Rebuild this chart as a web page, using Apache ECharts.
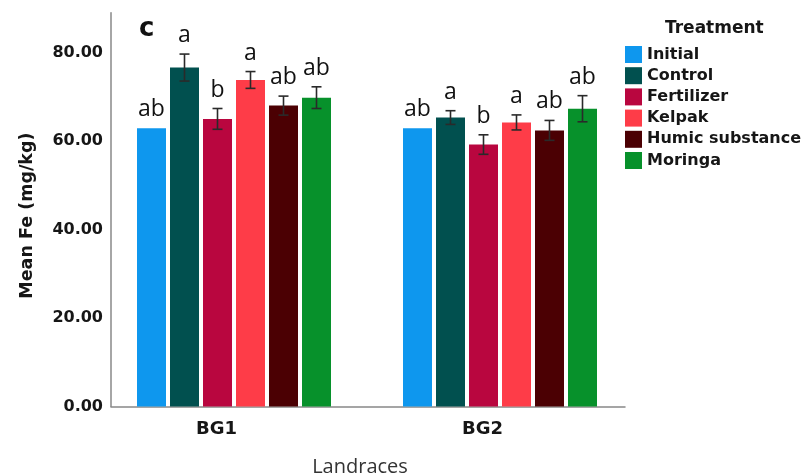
<!DOCTYPE html>
<html>
<head>
<meta charset="utf-8">
<script src="https://cdn.jsdelivr.net/npm/echarts@6/dist/echarts.min.js"></script>
<style>
html,body{margin:0;padding:0;background:#fff;}
#chart{width:807px;height:476px;}
</style>
</head>
<body>
<div id="chart"></div>
<script>
// ---- data ----
const categories = ['BG1', 'BG2'];
const treatments = ['Initial', 'Control', 'Fertilizer', 'Kelpak', 'Humic substance', 'Moringa'];
const meanBG1 = [62.9, 76.6, 65.0, 73.8, 68.0, 69.8];
const meanBG2 = [62.9, 65.3, 59.2, 64.2, 62.4, 67.3];
const errBG1 = [0, 3.05, 2.35, 1.9, 2.15, 2.45];
const errBG2 = [0, 1.55, 2.2, 1.7, 2.25, 2.95];
const lettersBG1 = ['ab', 'a', 'b', 'a', 'ab', 'ab'];
const lettersBG2 = ['ab', 'a', 'b', 'a', 'ab', 'ab'];
const yTicks = [0, 20, 40, 60, 80];

// ---- style ----
const colors = ['#0e97ee', '#01504f', '#b9063f', '#fe3c48', '#4b0003', '#07912b'];
const BAR_W = 29, BAR_GAP = 4, STEP = BAR_W + BAR_GAP;
const BOLD = 'DejaVu Sans';
const TXT = '#161616';

const means = [meanBG1, meanBG2];
const errs = [errBG1, errBG2];
const letters = [lettersBG1, lettersBG2];

const barSeries = treatments.map((t, i) => ({
  name: t,
  type: 'bar',
  xAxisIndex: 0,
  yAxisIndex: 0,
  barWidth: BAR_W,
  barGap: (BAR_GAP / BAR_W * 100) + '%',
  itemStyle: { color: colors[i] },
  data: categories.map((c, k) => means[k][i])
}));

const errData = [];
categories.forEach((c, k) => {
  treatments.forEach((t, i) => {
    errData.push([k, means[k][i], errs[k][i], i]);
  });
});

function renderItem(params, api) {
  const cat = api.value(0), mean = api.value(1), err = api.value(2), t = api.value(3);
  const base = api.coord([cat, mean]);
  const x = base[0] + (t - 2.5) * STEP;
  const top = api.coord([cat, mean + err])[1];
  const bot = api.coord([cat, mean - err])[1];
  const children = [];
  const ls = { stroke: '#2a2a2a', lineWidth: 1.6 };
  if (err > 0) {
    children.push({ type: 'line', shape: { x1: x, y1: top, x2: x, y2: bot }, style: ls });
    children.push({ type: 'line', shape: { x1: x - 5, y1: top, x2: x + 5, y2: top }, style: ls });
    children.push({ type: 'line', shape: { x1: x - 5, y1: bot, x2: x + 5, y2: bot }, style: ls });
  }
  children.push({
    type: 'text',
    style: {
      text: letters[cat][t], x: x, y: top - 7,
      align: 'center', verticalAlign: 'bottom',
      font: '23px "Open Sans"', fill: '#111'
    }
  });
  return { type: 'group', children: children };
}

const chart = echarts.init(document.getElementById('chart'), null, { renderer: 'canvas' });
chart.setOption({
  animation: false,
  backgroundColor: '#fff',
  title: [
    { text: 'c', left: 139, top: 16, padding: 0,
      textStyle: { fontFamily: BOLD, fontWeight: 'bold', fontSize: 26, color: '#111' } },
    { text: 'Treatment', left: 665, top: 20, padding: 0,
      textStyle: { fontFamily: BOLD, fontWeight: 'bold', fontSize: 17, color: TXT } }
  ],
  legend: {
    data: treatments,
    orient: 'vertical',
    left: 625, top: 46,
    padding: 0,
    itemWidth: 17, itemHeight: 17, itemGap: 4.2,
    icon: 'rect',
    textStyle: { fontFamily: BOLD, fontWeight: 'bold', fontSize: 16, color: TXT, lineHeight: 17 }
  },
  grid: [
    { left: 101, width: 532, top: 12.7, bottom: 69.5, containLabel: false, outerBoundsMode: 'none' },
    { left: 111, width: 514, top: 12.7, bottom: 69.5, containLabel: false, outerBoundsMode: 'none' }
  ],
  xAxis: [
    {
      type: 'category', gridIndex: 0, data: categories,
      axisLine: { show: false }, axisTick: { show: false },
      axisLabel: { margin: 14, padding: [0, 35, 0, 0], fontFamily: BOLD, fontWeight: 'bold', fontSize: 18, color: TXT },
      name: 'Landraces', nameLocation: 'middle', nameGap: 51,
      nameTextStyle: { fontFamily: 'Open Sans', fontSize: 20, color: '#333', padding: [0, 14, 0, 0] }
    },
    {
      type: 'category', gridIndex: 1, data: categories,
      axisLine: { show: true, lineStyle: { color: '#888', width: 1.5 } },
      axisTick: { show: false }, axisLabel: { show: false }
    }
  ],
  yAxis: [
    { type: 'value', gridIndex: 0, min: 0, max: 89, show: false },
    {
      type: 'value', gridIndex: 1, min: 0, max: 89,
      axisLine: { show: true, lineStyle: { color: '#888', width: 1.5 } },
      axisTick: { show: false },
      splitLine: { show: false },
      axisLabel: {
        customValues: yTicks,
        margin: 8,
        formatter: v => v.toFixed(2),
        fontFamily: BOLD, fontWeight: 'bold', fontSize: 16, color: TXT
      },
      name: 'Mean Fe (mg/kg)', nameLocation: 'middle', nameGap: 75,
      nameTextStyle: { fontFamily: BOLD, fontWeight: 'bold', fontSize: 17.5, color: TXT, padding: [0, 12, 0, 0] }
    }
  ],
  series: barSeries.concat([{
    name: 'errors',
    type: 'custom',
    xAxisIndex: 0, yAxisIndex: 0,
    renderItem: renderItem,
    encode: { x: 0, y: 1 },
    data: errData,
    z: 10,
    silent: true
  }])
});
</script>
</body>
</html>
